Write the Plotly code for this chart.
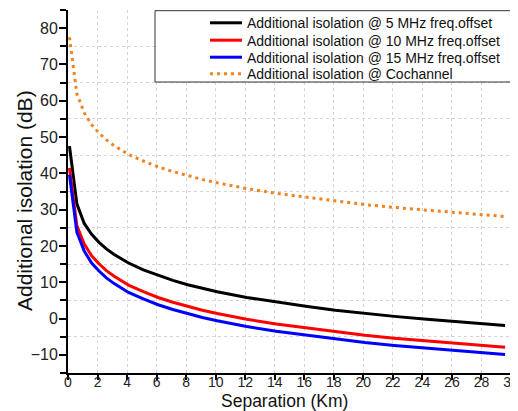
import plotly.graph_objects as go

separation_km = [0.1, 0.6, 1.1, 1.6, 2.1, 2.6, 3.1, 4.1, 5.1, 6.1, 7.1, 8.1, 9.1, 10.1,
                 12.1, 14.1, 16.1, 18.1, 20.1, 22.1, 24.1, 26.1, 28.1, 29.6]

iso_5mhz = [47.5, 31.6, 26.2, 23.2, 21.0, 19.2, 17.7, 15.3, 13.4, 11.9, 10.5, 9.3, 8.3, 7.4,
            5.8, 4.5, 3.4, 2.3, 1.4, 0.6, -0.1, -0.8, -1.5, -1.9]
iso_10mhz = [41.5, 25.6, 20.5, 17.3, 15.1, 13.2, 11.7, 9.2, 7.4, 5.8, 4.5, 3.3, 2.3, 1.4,
             -0.2, -1.5, -2.6, -3.7, -4.6, -5.4, -6.1, -6.8, -7.5, -7.9]
iso_15mhz = [39.6, 23.8, 18.6, 15.3, 13.1, 11.2, 9.7, 7.2, 5.4, 3.8, 2.5, 1.3, 0.3, -0.6,
             -2.2, -3.5, -4.6, -5.7, -6.6, -7.4, -8.1, -8.8, -9.5, -9.9]
iso_cochannel = [77.5, 61.9, 56.7, 53.4, 51.1, 49.2, 47.7, 45.2, 43.4, 41.8, 40.5, 39.3, 38.3, 37.4,
                 35.8, 34.5, 33.4, 32.3, 31.4, 30.6, 29.9, 29.2, 28.5, 28.1]

series_names = ["Additional isolation @ 5 MHz freq.offset",
                "Additional isolation @ 10 MHz freq.offset",
                "Additional isolation @ 15 MHz freq.offset",
                "Additional isolation @ Cochannel"]
series_values = [iso_5mhz, iso_10mhz, iso_15mhz, iso_cochannel]

x_title = "Separation (Km)"
y_title = "Additional isolation (dB)"

colors = ["#000000", "#ff0000", "#0000ff", "#f5821f"]
dashes = ["solid", "solid", "solid", "3px,4px"]

FONT = "Liberation Sans, Arial, sans-serif"

fig = go.Figure()
for name, vals, col, dsh in zip(series_names, series_values, colors, dashes):
    fig.add_trace(go.Scatter(x=separation_km, y=vals, mode="lines", name=name,
                             line=dict(color=col, width=3, dash=dsh)))

# plot area in page px: x 68..511, y 10..373
def px_x(p):
    return (p - 68) / 443.0

def px_y(p):
    return (373 - p) / 363.0

shapes = [dict(type="rect", xref="paper", yref="paper",
               x0=px_x(155), x1=px_x(517), y0=px_y(82), y1=px_y(10.7),
               line=dict(color="#333333", width=1), fillcolor="white", layer="above")]
annotations = []
legend_rows = [22.8, 40.2, 57.2, 73.8]
for name, col, dsh, row in zip(series_names, colors, dashes, legend_rows):
    shapes.append(dict(type="line", xref="paper", yref="paper",
                       x0=px_x(210), x1=px_x(242), y0=px_y(row), y1=px_y(row),
                       line=dict(color=col, width=3, dash=dsh), layer="above"))
    annotations.append(dict(text=name, xref="paper", yref="paper",
                            x=px_x(245), y=px_y(row + 0.5), xanchor="left", yanchor="middle",
                            showarrow=False, font=dict(size=14, family=FONT, color="#111111")))

annotations.append(dict(text=y_title, xref="paper", yref="paper",
                        x=px_x(24), y=px_y(201), xanchor="center", yanchor="middle",
                        textangle=-90, showarrow=False,
                        font=dict(size=21, family=FONT, color="#111111")))
annotations.append(dict(text=x_title, xref="paper", yref="paper",
                        x=px_x(284), y=px_y(400.5), xanchor="center", yanchor="middle",
                        showarrow=False, borderpad=0,
                        font=dict(size=17.5, family=FONT, color="#111111")))

grid_col = "#d4d4d4"
# page has an 8px body margin, so the figure is sized/offset to compensate
fig.update_layout(
    width=510, height=403,
    margin=dict(l=60, r=7, t=2, b=38),
    paper_bgcolor="white", plot_bgcolor="white",
    font=dict(family=FONT, color="#222222"),
    showlegend=False,
    shapes=shapes,
    annotations=annotations,
)
fig.update_xaxes(
    range=[0, 30], tick0=0, dtick=2,
    ticks="outside", ticklen=5, tickwidth=1.5, tickcolor="#000000",
    showline=True, linecolor="#000000", linewidth=2,
    showgrid=True, gridcolor=grid_col, griddash="dot", gridwidth=1,
    zeroline=False,
    tickfont=dict(size=14, family=FONT, color="#222222"),
    ticklabelstandoff=-10,
    ticklabeloverflow="allow",
    automargin=False,
)
fig.update_yaxes(
    range=[-15, 85], tick0=0, dtick=10,
    ticks="outside", ticklen=7, tickwidth=1.5, tickcolor="#000000",
    showline=True, linecolor="#000000", linewidth=2,
    showgrid=False, zeroline=False,
    minor=dict(tick0=0, dtick=5, ticks="outside", ticklen=6, tickwidth=1.5, tickcolor="#000000",
               showgrid=True, gridcolor=grid_col, griddash="dot", gridwidth=1),
    tickfont=dict(size=16, family=FONT, color="#222222"),
    ticklabelstandoff=-2,
    automargin=False,
)

fig.write_html("out.html")
